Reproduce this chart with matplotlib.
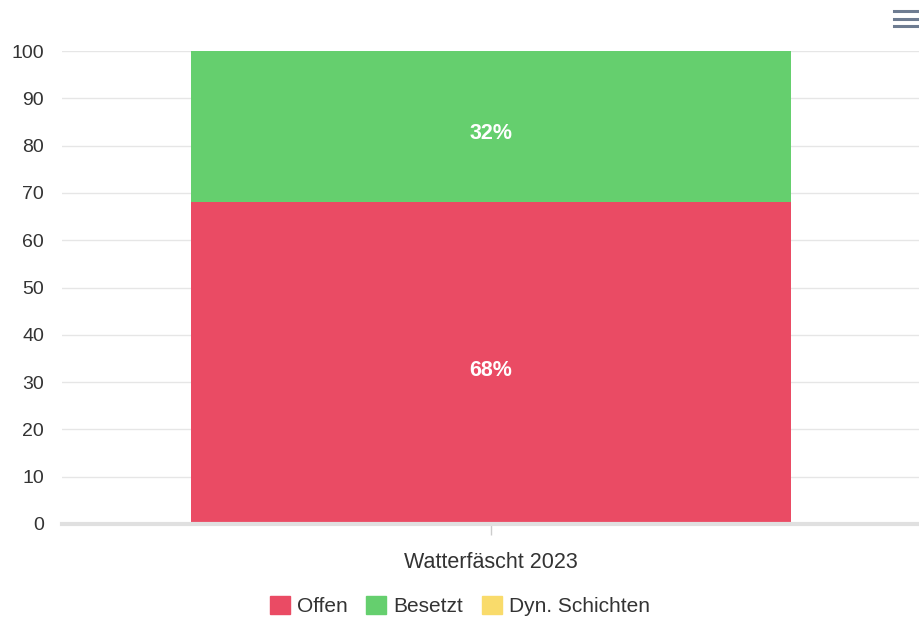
import matplotlib.pyplot as plt
from matplotlib.patches import FancyBboxPatch
from matplotlib.lines import Line2D

plt.rcParams['font.family'] = ['Liberation Sans', 'DejaVu Sans']

categories = ['Watterfäscht 2023']
offen = [68]
besetzt = [32]
dyn_schichten = [0]
series_names = ['Offen', 'Besetzt', 'Dyn. Schichten']
colors = ['#EA4B64', '#65CF6E', '#F9DB6B']
yticks = [0, 10, 20, 30, 40, 50, 60, 70, 80, 90, 100]

fig = plt.figure(figsize=(9.2, 6.19), dpi=100)
ax = fig.add_axes([62 / 920, 1 - 524 / 619, 1 - 62 / 920, (524 - 51) / 619])

x = range(len(categories))
ax.bar(x, offen, width=0.7, color=colors[0], zorder=2)
ax.bar(x, besetzt, width=0.7, bottom=offen, color=colors[1], zorder=2)
ax.bar(x, dyn_schichten, width=0.7, bottom=[o + b for o, b in zip(offen, besetzt)],
       color=colors[2], zorder=2)

total = [o + b + d for o, b, d in zip(offen, besetzt, dyn_schichten)]
for i in x:
    ax.annotate(f'{round(offen[i] / total[i] * 100)}%', (i, offen[i] / 2), xytext=(0, -5),
                textcoords='offset points', ha='center', va='center',
                color='white', fontsize=15.5, fontweight='bold', zorder=3)
    ax.annotate(f'{round(besetzt[i] / total[i] * 100)}%', (i, offen[i] + besetzt[i] / 2),
                xytext=(0, -5), textcoords='offset points', ha='center',
                va='center', color='white', fontsize=15.5, fontweight='bold', zorder=3)

ax.set_xlim(-0.5, 0.5)
ax.set_ylim(0, 100)
ax.set_yticks(yticks)
ax.set_xticks(list(x))
ax.set_xticklabels(categories)
ax.yaxis.grid(True, color='#e6e6e6', linewidth=1, zorder=0)
ax.set_axisbelow(True)
for s in ['top', 'right', 'left']:
    ax.spines[s].set_visible(False)
ax.spines['bottom'].set_color('#e0e0e0')
ax.spines['bottom'].set_linewidth(3)
ax.tick_params(axis='y', length=0, pad=13, labelsize=14, labelcolor='#333333')
ax.tick_params(axis='x', length=8, width=1, color='#cccccc', pad=12, labelsize=15.5,
               labelcolor='#333333')

handles = [FancyBboxPatch((0, 0), 1, 1, boxstyle='round,pad=0.1', facecolor=c, edgecolor=c)
           for c in colors]
fig.legend(handles, series_names, loc='center', bbox_to_anchor=(460 / 920, 1 - 606 / 619),
           ncol=3, frameon=False, fontsize=15, handlelength=0.95, handleheight=0.95,
           handletextpad=0.35, columnspacing=0.9, labelcolor='#333333')

# menu icon
for yy in [11, 19, 26]:
    fig.add_artist(Line2D([894 / 920, 919 / 920], [1 - yy / 619, 1 - yy / 619],
                          color='#6e7c91', linewidth=2.2))

fig.savefig('out.png', dpi=100)
